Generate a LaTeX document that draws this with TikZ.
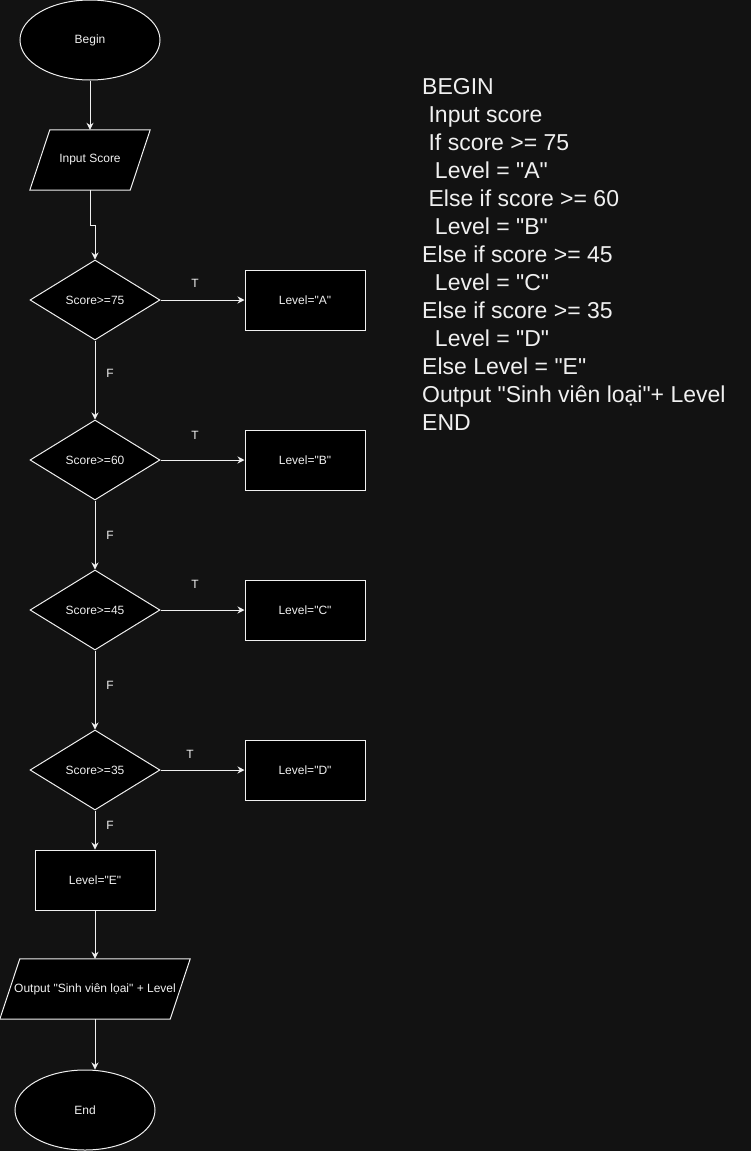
\documentclass[tikz,border=0pt]{standalone}
\usepackage{fontspec}
\setmainfont{Liberation Sans}[Ligatures=TeXOff]
\usetikzlibrary{shapes.geometric,arrows.meta,backgrounds}
\definecolor{bgc}{HTML}{121212}
\definecolor{fgc}{HTML}{F0F0F0}
\newcommand\qt{\symbol{34}}
\begin{document}
\begin{tikzpicture}[x=1pt,y=-1pt,
  base/.style={draw=fgc,fill=black,line width=1pt,text=fgc,font=\fontsize{12}{14}\selectfont,inner sep=0pt},
  term/.style={base,ellipse,minimum width=140,minimum height=80},
  proc/.style={base,rectangle,minimum width=120,minimum height=60},
  dec/.style={base,diamond,minimum width=130,minimum height=80},
  io/.style={rectangle,text=fgc,font=\fontsize{12}{14}\selectfont,inner sep=0pt,minimum height=60},
  lbl/.style={text=fgc,font=\fontsize{12}{14}\selectfont,inner sep=0pt},
  arr/.style={draw=fgc,line width=1pt,-{Stealth[length=7pt,width=7pt]}},
  shp/.style={draw=fgc,fill=black,line width=1pt}]
\useasboundingbox (0,0) rectangle (751,1151);
\node[term] (begin) at (90,40) {Begin};
\node[io,minimum width=120] (inp) at (90,160) {Input Score};
\node[dec] (d1) at (95,300) {Score>=75};
\node[proc] (a) at (305,300) {Level=\qt A\qt};
\node[dec] (d2) at (95,460) {Score>=60};
\node[proc] (b) at (305,460) {Level=\qt B\qt};
\node[dec] (d3) at (95,610) {Score>=45};
\node[proc] (c) at (305,610) {Level=\qt C\qt};
\node[dec] (d4) at (95,770) {Score>=35};
\node[proc] (d) at (305,770) {Level=\qt D\qt};
\node[proc] (e) at (95,880) {Level=\qt E\qt};
\node[io,minimum width=190] (out) at (95,989) {Output \qt Sinh viên lọai\qt{} + Level};
\node[term] (endn) at (85,1110) {End};
\begin{scope}[on background layer]
  \fill[bgc] (0,0) rectangle (751,1151);
  \draw[shp] ([xshift=20pt]inp.north west) -- (inp.north east) -- ([xshift=-20pt]inp.south east) -- (inp.south west) -- cycle;
  \draw[shp] ([xshift=20pt]out.north west) -- (out.north east) -- ([xshift=-20pt]out.south east) -- (out.south west) -- cycle;
\end{scope}
\draw[arr] (begin.south) -- (inp.north);
\draw[arr] (inp.south) -- ++(0,35) -| (d1.north);
\draw[arr] (d1.east) -- (a.west);
\draw[arr] (d1.south) -- (d2.north);
\draw[arr] (d2.east) -- (b.west);
\draw[arr] (d2.south) -- (d3.north);
\draw[arr] (d3.east) -- (c.west);
\draw[arr] (d3.south) -- (d4.north);
\draw[arr] (d4.east) -- (d.west);
\draw[arr] (d4.south) -- (e.north);
\draw[arr] (e.south) -- (out.north);
\draw[arr] (out.south) -- (out.south |- endn.north);
\node[lbl] (t1) at (195,283) {T};
\node[lbl] (f1) at (110,373) {F};
\node[lbl] (t2) at (195,435) {T};
\node[lbl] (f2) at (110,535) {F};
\node[lbl] (t3) at (195,584) {T};
\node[lbl] (f3) at (110,685) {F};
\node[lbl] (t4) at (190,754) {T};
\node[lbl] (f4) at (110,825) {F};
\node[text=fgc,font=\fontsize{23}{28}\selectfont,align=left,inner sep=0pt,anchor=north west] (code) at (422,77.8) {BEGIN\\
\ Input score\\
\ If score >= 75\\
\ \ Level = \qt A\qt\\
\ Else if score >= 60\\
\ \ Level = \qt B\qt\\
Else if score >= 45\\
\ \ Level = \qt C\qt\\
Else if score >= 35\\
\ \ Level = \qt D\qt\\
Else Level = \qt E\qt\\
Output \qt Sinh viên loại\qt+ Level\\
END};
\end{tikzpicture}
\end{document}
